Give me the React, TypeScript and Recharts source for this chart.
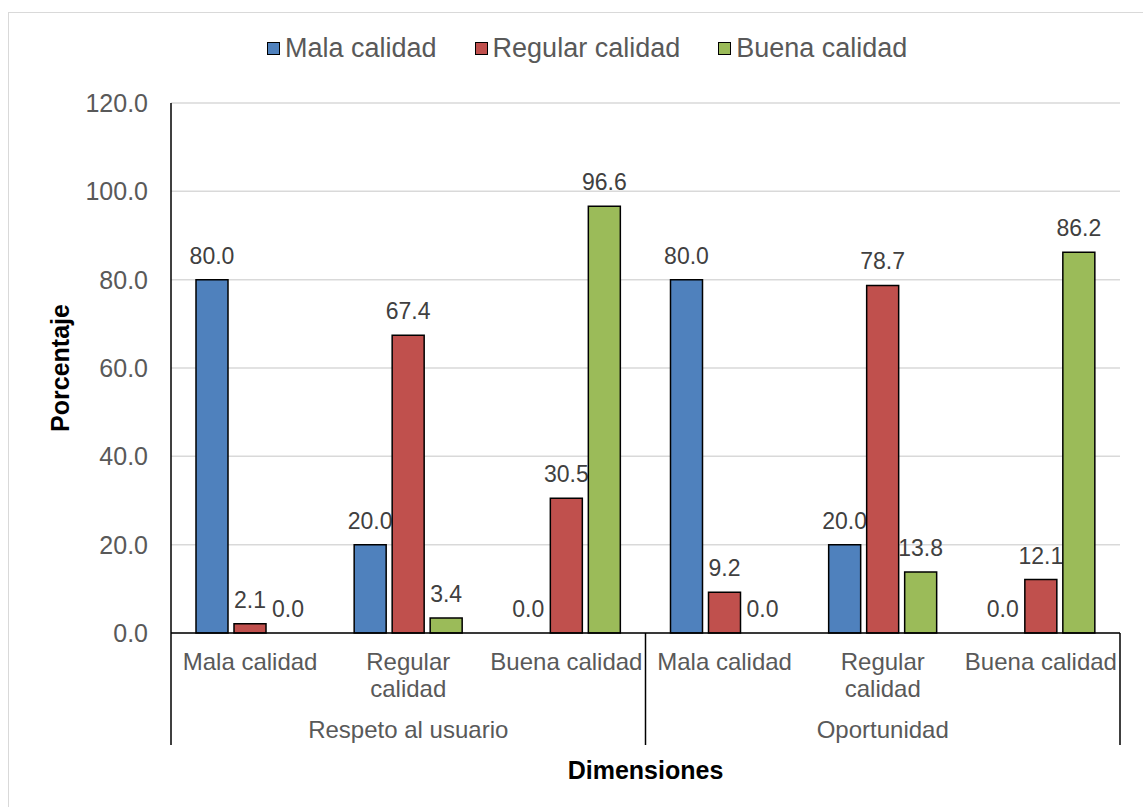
import { Bar, BarChart, CartesianGrid, Legend, Rectangle, XAxis, YAxis } from "recharts";

const categories = ["Mala calidad", "Regular calidad", "Buena calidad", "Mala calidad", "Regular calidad", "Buena calidad"];
const groups = ["Respeto al usuario", "Respeto al usuario", "Respeto al usuario", "Oportunidad", "Oportunidad", "Oportunidad"];
const malaCalidad = [80.0, 20.0, 0.0, 80.0, 20.0, 0.0];
const regularCalidad = [2.1, 67.4, 30.5, 9.2, 78.7, 12.1];
const buenaCalidad = [0.0, 3.4, 96.6, 0.0, 13.8, 86.2];
const yTicks = [0, 20, 40, 60, 80, 100, 120];

const series = [
  { key: "mala", name: "Mala calidad", color: "#4F81BD" },
  { key: "regular", name: "Regular calidad", color: "#C0504D" },
  { key: "buena", name: "Buena calidad", color: "#9BBB59" },
];

const data = categories.map((name, i) => ({
  key: `${groups[i]}-${i}`,
  name,
  group: groups[i],
  mala: malaCalidad[i],
  regular: regularCalidad[i],
  buena: buenaCalidad[i],
}));

const WIDTH = 1143;
const HEIGHT = 807;
const margin = { top: 103, right: 23, bottom: 62, left: 61 };
const Y_AXIS_WIDTH = 110;
const X_AXIS_HEIGHT = 112;
const band = (WIDTH - margin.left - margin.right - Y_AXIS_WIDTH) / categories.length;

const font = "'Liberation Sans', Arial, sans-serif";
const textGray = "#595959";

function wrap(label: string) {
  if (label.length <= 13) return [label];
  const i = label.indexOf(" ");
  return [label.slice(0, i), label.slice(i + 1)];
}

function CategoryTick(props: any) {
  const { x, y, index } = props;
  const row = data[index];
  const lines = wrap(row.name);
  const prevGroup = index > 0 ? data[index - 1].group : null;
  const nextGroup = index < data.length - 1 ? data[index + 1].group : null;
  const isGroupMiddle = prevGroup === row.group && nextGroup === row.group;
  return (
    <g>
      {lines.map((line, i) => (
        <text key={i} x={x} y={y + 37 + i * 27} textAnchor="middle" fontSize={24} fill={textGray} fontFamily={font}>
          {line}
        </text>
      ))}
      {isGroupMiddle && (
        <text x={x} y={y + 105} textAnchor="middle" fontSize={24} fill={textGray} fontFamily={font}>
          {row.group}
        </text>
      )}
      {prevGroup !== row.group && (
        <line x1={x - band / 2} x2={x - band / 2} y1={y} y2={y + X_AXIS_HEIGHT} stroke="#000" strokeWidth={1.5} />
      )}
      {nextGroup === null && (
        <line x1={x + band / 2} x2={x + band / 2} y1={y} y2={y + X_AXIS_HEIGHT} stroke="#000" strokeWidth={1.5} />
      )}
    </g>
  );
}

// bar with its value printed above it; zero bars still get their "0.0"
function LabeledBar(props: any) {
  const { x, y, width, height, fill, value } = props;
  const v = Array.isArray(value) ? value[1] - value[0] : value;
  return (
    <g>
      {height > 0 && <Rectangle x={x} y={y} width={width} height={height} fill={fill} stroke="#000" strokeWidth={1.5} />}
      <text x={x + width / 2} y={y - 16} textAnchor="middle" fontSize={23} fill="#404040" fontFamily={font}>
        {Number(v).toFixed(1)}
      </text>
    </g>
  );
}

function LegendContent() {
  return (
    <div style={{ display: "flex", alignItems: "center", fontFamily: font, fontSize: 27, color: textGray }}>
      {series.map((s) => (
        <div key={s.key} style={{ display: "flex", alignItems: "center", marginRight: 38 }}>
          <span
            style={{
              display: "inline-block",
              width: 11,
              height: 11,
              background: s.color,
              border: "1.5px solid #000",
              marginRight: 5,
            }}
          />
          <span>{s.name}</span>
        </div>
      ))}
    </div>
  );
}

function YTitle(props: any) {
  const { viewBox } = props;
  const cx = 60;
  const cy = viewBox.y + viewBox.height / 2;
  return (
    <text x={cx} y={cy} transform={`rotate(-90 ${cx} ${cy})`} textAnchor="middle" dominantBaseline="central"
      fontSize={25} fontWeight="bold" fill="#000" fontFamily={font}>
      Porcentaje
    </text>
  );
}

function XTitle(props: any) {
  const { viewBox } = props;
  const cx = viewBox.x + viewBox.width / 2;
  return (
    <text x={cx} y={779} textAnchor="middle" fontSize={25} fontWeight="bold" fill="#000" fontFamily={font}>
      Dimensiones
    </text>
  );
}

export default function App() {
  return (
    <div style={{ position: "absolute", left: 0, top: 0, width: WIDTH, height: HEIGHT, overflow: "hidden", background: "#fff" }}>
      <div style={{ position: "absolute", left: 8, top: 12, width: 1300, height: 1000, border: "1.5px solid #D9D9D9" }} />
      <BarChart width={WIDTH} height={HEIGHT} data={data} margin={margin} barSize={32} barGap={6}>
        <CartesianGrid vertical={false} stroke="#D9D9D9" strokeWidth={1.5} />
        <XAxis
          dataKey="key"
          height={X_AXIS_HEIGHT}
          tick={<CategoryTick />}
          tickLine={false}
          tickSize={0}
          tickMargin={0}
          interval={0}
          axisLine={{ stroke: "#000", strokeWidth: 1.5 }}
          label={<XTitle />}
        />
        <YAxis
          width={Y_AXIS_WIDTH}
          domain={[0, 120]}
          ticks={yTicks}
          tickFormatter={(v: number) => v.toFixed(1)}
          tick={{ fontSize: 25, fill: textGray, fontFamily: font }}
          tickLine={false}
          tickSize={0}
          tickMargin={23}
          axisLine={{ stroke: "#000", strokeWidth: 1.5 }}
          label={<YTitle />}
        />
        <Legend
          verticalAlign="middle"
          align="center"
          content={<LegendContent />}
          wrapperStyle={{ top: 33, left: 267, width: 800, height: 36 }}
        />
        {series.map((s) => (
          <Bar
            key={s.key}
            dataKey={s.key}
            name={s.name}
            fill={s.color}
            stroke="#000"
            strokeWidth={1.5}
            shape={<LabeledBar />}
            isAnimationActive={false}
          />
        ))}
      </BarChart>
    </div>
  );
}
